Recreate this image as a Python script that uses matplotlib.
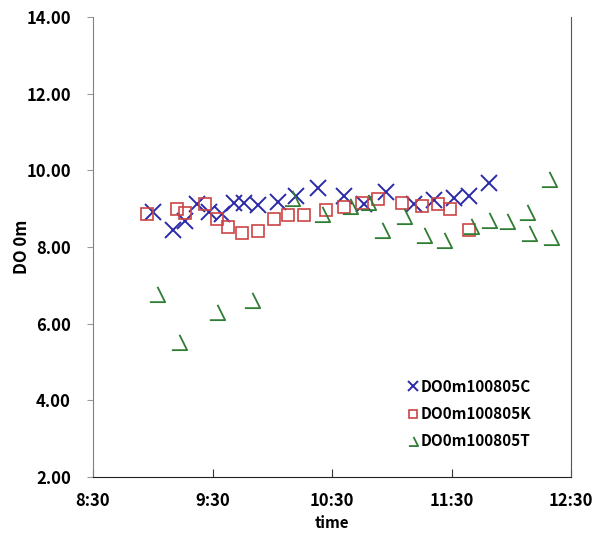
import pandas as pd
import matplotlib
matplotlib.use("Agg")
import matplotlib.pyplot as plt
from matplotlib.path import Path

plt.rcParams["font.family"] = ["Noto Sans CJK JP", "DejaVu Sans"]

# --------------------------------------------------
# Data (DO at 0 m, 2010-08-05)
# --------------------------------------------------

DAY = "2010-08-05 "

times_c = ["9:00", "9:10", "9:16", "9:22", "9:28", "9:35", "9:41", "9:46", "9:53", "10:03",
           "10:12", "10:23", "10:36", "10:46", "10:57", "11:11", "11:21", "11:31", "11:39", "11:49"]
do_c = [8.91, 8.44, 8.68, 9.12, 8.91, 8.86, 9.15, 9.15, 9.10, 9.17,
        9.33, 9.54, 9.33, 9.12, 9.43, 9.12, 9.23, 9.28, 9.33, 9.67]

times_k = ["8:57", "9:12", "9:16", "9:26", "9:32", "9:38", "9:45", "9:53", "10:01", "10:08",
           "10:16", "10:27", "10:36", "10:45", "10:53", "11:05", "11:15", "11:23", "11:29", "11:39"]
do_k = [8.86, 8.99, 8.89, 9.12, 8.73, 8.52, 8.36, 8.42, 8.73, 8.83,
        8.83, 8.96, 9.04, 9.15, 9.25, 9.15, 9.07, 9.12, 8.99, 8.44]

times_t = ["9:02", "9:13", "9:32", "9:50", "10:10", "10:25", "10:39", "10:48", "10:55", "11:06",
           "11:16", "11:26", "11:40", "11:49", "11:58", "12:08", "12:09", "12:19", "12:20"]
do_t = [6.77, 5.52, 6.30, 6.62, 9.28, 8.86, 9.07, 9.17, 8.44, 8.81,
        8.31, 8.18, 8.55, 8.70, 8.68, 8.91, 8.36, 9.77, 8.26]

xtick_labels = ["8:30", "9:30", "10:30", "11:30", "12:30"]
ytick_values = [2, 4, 6, 8, 10, 12, 14]


def to_dt(ts):
    return pd.to_datetime([DAY + t for t in ts])


# open angle marker like the old spreadsheet "triangle"
angle = Path([(0.0, 0.5), (0.5, -0.5), (-0.5, -0.5)],
             [Path.MOVETO, Path.LINETO, Path.LINETO])

fig = plt.figure(figsize=(5.94, 5.35), dpi=100)
ax = fig.add_axes([0.1566, 0.1084, 0.8047, 0.8598])

ax.plot(to_dt(times_c), do_c, linestyle="none", marker="x", markersize=11,
        markeredgewidth=1.4, color="#2a2aa8", label="DO0m100805C")
ax.plot(to_dt(times_k), do_k, linestyle="none", marker="s", markersize=9,
        markeredgewidth=1.2, markerfacecolor="none", markeredgecolor="#cc4444",
        label="DO0m100805K")
ax.plot(to_dt(times_t), do_t, linestyle="none", marker=angle, markersize=11,
        markeredgewidth=1.3, markerfacecolor="none", markeredgecolor="#2e7d32",
        label="DO0m100805T")

xt = to_dt(xtick_labels)
ax.set_xlim(xt[0], xt[-1])
ax.set_xticks(xt)
ax.set_xticklabels(xtick_labels)
ax.set_ylim(2, 14)
ax.set_yticks(ytick_values)
ax.set_yticklabels([f"{v:.2f}" for v in ytick_values])

for lab in ax.get_xticklabels() + ax.get_yticklabels():
    lab.set_fontweight("bold")
    lab.set_fontsize(12)

ax.tick_params(axis="x", direction="in", length=6, pad=11, color="#333333")
ax.tick_params(axis="y", direction="out", length=4, pad=12, color="#999999")

ax.spines["top"].set_visible(False)
ax.spines["left"].set_color("#808080")
ax.spines["right"].set_color("#555555")
ax.spines["bottom"].set_color("#222222")

ax.set_xlabel("time", fontsize=11, fontweight="bold", va="center")
ax.xaxis.set_label_coords(0.5, -0.1)
ax.set_ylabel("DO 0m", fontsize=12, fontweight="bold", va="center")
ax.yaxis.set_label_coords(-0.148, 0.5)

leg = ax.legend(loc="lower right", bbox_to_anchor=(0.945, 0.03), frameon=False,
                markerscale=0.6, handlelength=0.6, handletextpad=0.2,
                labelspacing=0.75, prop={"weight": "bold", "size": 11})

fig.savefig("out.png", dpi=100)
